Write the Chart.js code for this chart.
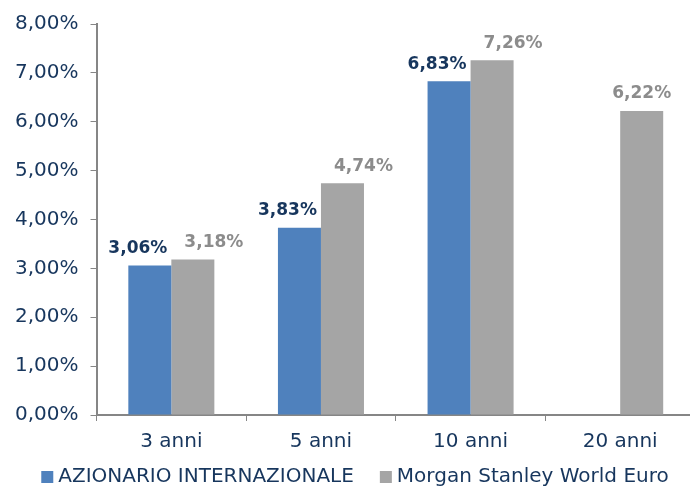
<!DOCTYPE html>
<html>
<head>
<meta charset="utf-8">
<script src="https://cdn.jsdelivr.net/npm/chart.js@4/dist/chart.umd.min.js"></script>
<style>
html,body{margin:0;padding:0;background:#fff;overflow:hidden;}
#wrap{width:700px;height:490px;position:relative;}
</style>
</head>
<body>
<div id="wrap"><canvas id="c"></canvas></div>
<script>
const categories = ["3 anni", "5 anni", "10 anni", "20 anni"];
const seriesNames = ["AZIONARIO INTERNAZIONALE", "Morgan Stanley World Euro"];
const azionario = [3.06, 3.83, 6.83, null];
const msWorld = [3.18, 4.74, 7.26, 6.22];
const yTicks = [0, 1, 2, 3, 4, 5, 6, 7, 8];

const NAVY = "#17365D";
const GRAYTXT = "#8C8C8C";
const AXIS = "#868686";
const FONT = "'DejaVu Sans', Verdana, sans-serif";

function fmt(v){ return v.toFixed(2).replace(".", ",") + "%"; }

const labelPlugin = {
  id: "barLabels",
  afterDatasetsDraw(chart){
    const ctx = chart.ctx;
    ctx.save();
    ctx.font = "bold 17px " + FONT;
    ctx.textAlign = "center";
    ctx.textBaseline = "middle";
    chart.data.datasets.forEach((ds, di) => {
      const meta = chart.getDatasetMeta(di);
      meta.data.forEach((bar, i) => {
        const v = ds.data[i];
        if (v === null || v === undefined) return;
        let x = bar.x;
        if (di === 0) x -= 12;
        else {
          const other = chart.data.datasets[0].data[i];
          if (other !== null && other !== undefined) x += 21;
        }
        ctx.fillStyle = di === 0 ? NAVY : GRAYTXT;
        ctx.fillText(fmt(v), x, bar.y - 17);
      });
    });
    ctx.restore();
  }
};

const legendPlugin = {
  id: "customLegend",
  afterDraw(chart){
    const ctx = chart.ctx;
    ctx.save();
    ctx.font = "20px " + FONT;
    ctx.textBaseline = "middle";
    ctx.textAlign = "left";
    const box = 12, gapBT = 5, gapItems = 26;
    const items = chart.data.datasets.map(ds => ({ text: ds.label, color: ds.backgroundColor, w: ctx.measureText(ds.label).width }));
    let total = 0;
    items.forEach((it, i) => { total += box + gapBT + it.w + (i < items.length - 1 ? gapItems : 0); });
    let x = chart.width / 2 + 5 - total / 2;
    const y = chart.height - 13;
    items.forEach(it => {
      ctx.fillStyle = it.color;
      ctx.fillRect(x, y - box / 2, box, box);
      x += box + gapBT;
      ctx.fillStyle = NAVY;
      ctx.fillText(it.text, x, y);
      x += it.w + gapItems;
    });
    ctx.restore();
  }
};

new Chart(document.getElementById("c"), {
  type: "bar",
  data: {
    labels: categories,
    datasets: [
      { label: seriesNames[0], data: azionario, backgroundColor: "#4F81BD", borderWidth: 0, categoryPercentage: 0.575, barPercentage: 1.0 },
      { label: seriesNames[1], data: msWorld, backgroundColor: "#A5A5A5", borderWidth: 0, categoryPercentage: 0.575, barPercentage: 1.0 }
    ]
  },
  options: {
    responsive: true,
    maintainAspectRatio: false,
    animation: false,
    devicePixelRatio: 1,
    layout: { padding: { left: 3, right: 5, top: 6, bottom: 27 } },
    plugins: {
      tooltip: { enabled: false },
      legend: { display: false }
    },
    scales: {
      x: {
        grid: { display: true, drawOnChartArea: false, drawTicks: true, tickLength: 6, color: AXIS, offset: true },
        border: { display: true, color: AXIS, width: 2 },
        ticks: { color: NAVY, font: { family: FONT, size: 20 }, padding: 9 }
      },
      y: {
        min: 0, max: 8,
        afterBuildTicks(axis){ axis.ticks = yTicks.map(v => ({ value: v })); },
        grid: { display: true, drawOnChartArea: false, drawTicks: true, tickLength: 6, color: AXIS },
        border: { display: true, color: AXIS, width: 2 },
        ticks: { color: NAVY, font: { family: FONT, size: 20 }, padding: 12, callback: v => fmt(v) }
      }
    }
  },
  plugins: [labelPlugin, legendPlugin]
});
</script>
</body>
</html>
